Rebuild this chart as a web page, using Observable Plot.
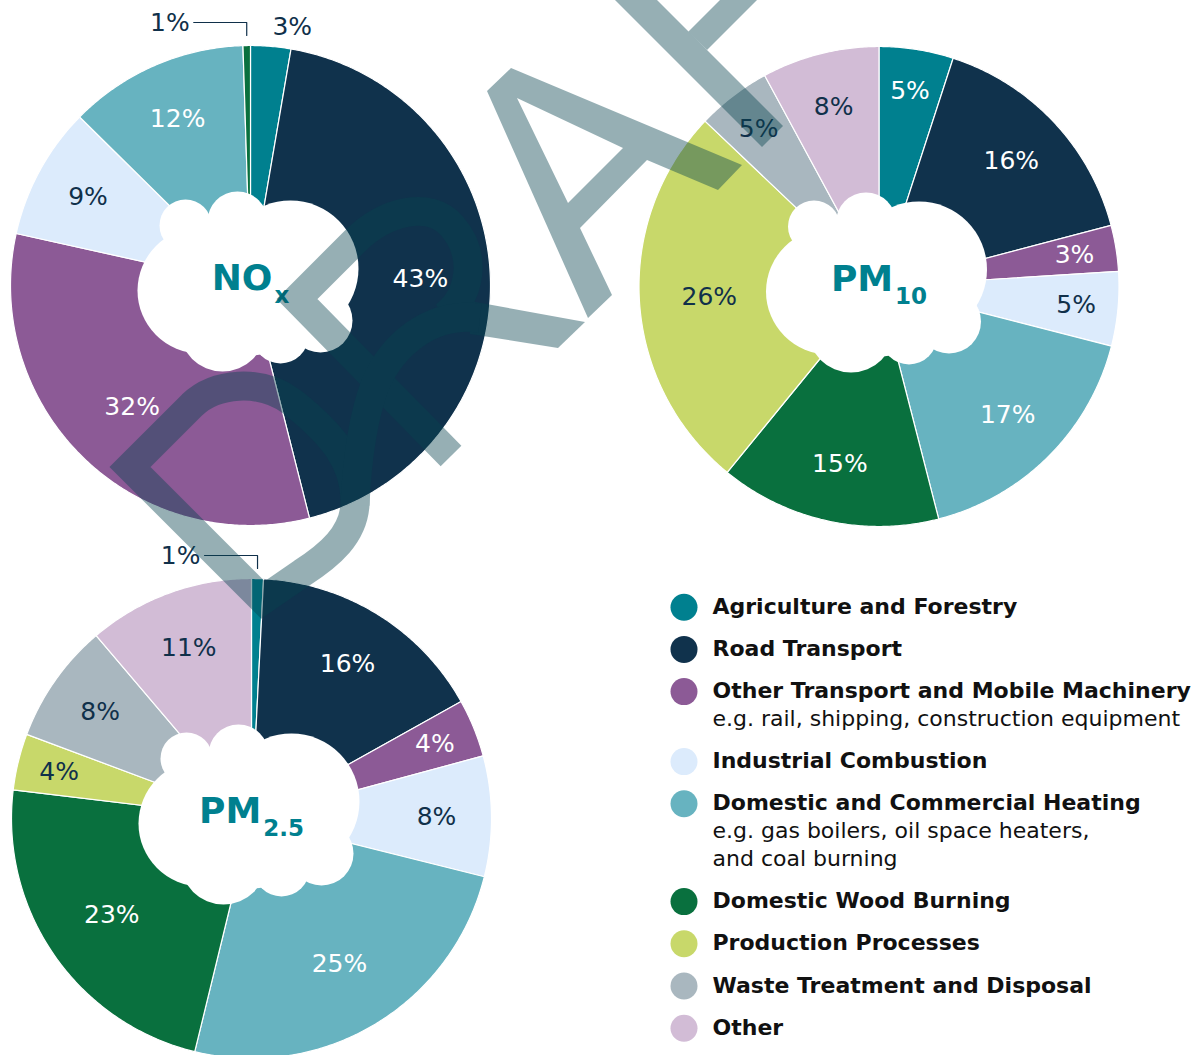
<!DOCTYPE html>
<html><head><meta charset="utf-8">
<script src="https://cdn.jsdelivr.net/npm/d3@7"></script>
<script src="https://cdn.jsdelivr.net/npm/@observablehq/plot@0.6"></script>
<style>
html,body{margin:0;padding:0;background:#fff;overflow:hidden;}
#chart{position:relative;width:1200px;height:1055px;}
</style></head><body><div id="chart"></div>
<script>
// ---------- data ----------
const categories = ["Agriculture and Forestry","Road Transport","Other Transport and Mobile Machinery","Industrial Combustion","Domestic and Commercial Heating","Domestic Wood Burning","Production Processes","Waste Treatment and Disposal","Other"];
const categoryNotes = [[], [], ["e.g. rail, shipping, construction equipment"], [], ["e.g. gas boilers, oil space heaters,", "and coal burning"], [], [], [], []];
const categoryColors = ["#00808f","#10324c","#8c5a96","#dcebfc","#67b3c0","#09703e","#c8d86a","#a9b7bf","#d2bcd6"];
const darkLabelCategories = [3, 6, 7, 8];
const pollutantMain = ["NO","PM","PM"];
const pollutantSub = ["x","10","2.5"];
const noxShares  = [2.7, 43.3, 32.4, 8.9, 12.1, 0.5, 0, 0, 0];
const pm10Shares = [5.0, 15.9, 3.1, 5.0, 17.0, 14.9, 26.2, 5.0, 7.9];
const pm25Shares = [0.8, 16.1, 3.9, 8.1, 24.9, 23.1, 3.8, 8.1, 11.2];

// ---------- layout ----------
const W = 1200, H = 1055, pieR = 240;
const pieCenters = [[250, 285], [878.5, 286], [251, 818]];
const cloudBumps = [[-65,-60,26],[-13,-64,30],[40,-17,68],[70,35,32],[30,50,28],[-28,43,43],[-50,5,63],[0,10,60]];
const teal = "#00808f", darkText = "#10304a";

const shareSets = [noxShares, pm10Shares, pm25Shares];
const slicePoints = [], labels = [], leaders = [], cloudDots = [];
shareSets.forEach((shares, p) => {
  const [cx, cy] = pieCenters[p];
  const total = d3.sum(shares);
  let acc = 0;
  shares.forEach((v, i) => {
    if (!v) return;
    const a0 = acc / total * 2 * Math.PI; acc += v; const a1 = acc / total * 2 * Math.PI;
    const key = p + "-" + i;
    const n = Math.max(2, Math.ceil((a1 - a0) / (Math.PI / 360)));
    const pts = [];
    for (let k = 0; k <= n; k++) {
      const a = a0 + (a1 - a0) * k / n;
      pts.push({key, cat: categories[i], x: cx + pieR * Math.sin(a), y: cy - pieR * Math.cos(a)});
    }
    pts.push({key, cat: categories[i], x: cx, y: cy});
    pts.push({...pts[0]});
    slicePoints.push(...pts);
    const am = (a0 + a1) / 2;
    const text = Math.round(v) + "%";
    if (v < 1) {
      const lx = cx + pieR * Math.sin(am), top = cy - pieR;
      leaders.push({key, x: lx, y: top - 10}, {key, x: lx, y: top - 23}, {key, x: lx - 53, y: top - 23});
      labels.push({text, x: lx - 57, y: top - 23, dark: true, anchor: "end"});
    } else if (v < 3) {
      const rr = pieR + 19;
      labels.push({text, x: cx + rr * Math.sin(am), y: cy - rr * Math.cos(am), dark: true, anchor: "start"});
    } else {
      const rr = v >= 20 ? 170 : v >= 10 ? 182 : v >= 6 ? 185 : 198;
      labels.push({text, x: cx + rr * Math.sin(am), y: cy - rr * Math.cos(am), dark: darkLabelCategories.includes(i), anchor: "middle"});
    }
  });
  cloudBumps.forEach(([dx, dy, r]) => cloudDots.push({x: cx + dx, y: cy + dy, r}));
});

// titles: centre main + subscript on pie centre
const ctx = document.createElement("canvas").getContext("2d");
const titleMain = [], titleSub = [];
pieCenters.forEach(([cx, cy], p) => {
  ctx.font = "bold 36px 'DejaVu Sans'";
  const mw = ctx.measureText(pollutantMain[p]).width;
  ctx.font = "bold 23px 'DejaVu Sans'";
  const sw = ctx.measureText(pollutantSub[p]).width;
  const x0 = cx - (mw + sw + 2) / 2;
  titleMain.push({x: x0, y: cy + 4, text: pollutantMain[p]});
  titleSub.push({x: x0 + mw + 2, y: cy + 17, text: pollutantSub[p]});
});

// legend rows
const legendDots = [], legendNames = [], legendNotes = [];
let base = 613.3;
categories.forEach((c, i) => {
  legendDots.push({cat: c, x: 683.5, y: base - 6.6});
  legendNames.push({text: c, x: 712, y: base});
  categoryNotes[i].forEach((t, k) => legendNotes.push({text: t, x: 712, y: base + 28 * (k + 1)}));
  base += 42.2 + 27.8 * categoryNotes[i].length;
});

const chart = Plot.plot({
  width: W, height: H, margin: 0,
  x: {domain: [0, W], range: [0, W], axis: null},
  y: {domain: [0, H], range: [0, H], axis: null},
  r: {type: "identity"},
  color: {domain: categories, range: categoryColors},
  style: {fontFamily: "'DejaVu Sans', Verdana, sans-serif", background: "white"},
  marks: [
    Plot.line(slicePoints, {x: "x", y: "y", z: "key", fill: "cat", stroke: "white", strokeWidth: 1.2, strokeLinejoin: "round"}),
    Plot.dot(cloudDots, {x: "x", y: "y", r: "r", fill: "white", stroke: null}),
    Plot.text(labels.filter(d => !d.dark), {x: "x", y: "y", text: "text", fill: "white", fontSize: 25}),
    Plot.text(labels.filter(d => d.dark && d.anchor === "middle"), {x: "x", y: "y", text: "text", fill: darkText, fontSize: 25}),
    Plot.text(labels.filter(d => d.anchor === "start"), {x: "x", y: "y", text: "text", fill: darkText, fontSize: 25, textAnchor: "start"}),
    Plot.text(labels.filter(d => d.anchor === "end"), {x: "x", y: "y", text: "text", fill: darkText, fontSize: 25, textAnchor: "end"}),
    Plot.line(leaders, {x: "x", y: "y", z: "key", stroke: darkText, strokeWidth: 1.2, curve: "linear"}),
    Plot.text(titleMain, {x: "x", y: "y", text: "text", fill: teal, fontSize: 36, fontWeight: "bold", textAnchor: "start", lineAnchor: "bottom"}),
    Plot.text(titleSub, {x: "x", y: "y", text: "text", fill: teal, fontSize: 23, fontWeight: "bold", textAnchor: "start", lineAnchor: "bottom"}),
    Plot.dot(legendDots, {x: "x", y: "y", r: 13.5, fill: "cat", stroke: null}),
    Plot.text(legendNames, {x: "x", y: "y", text: "text", fill: "#111", fontSize: 22, fontWeight: "bold", textAnchor: "start", lineAnchor: "bottom"}),
    Plot.text(legendNotes, {x: "x", y: "y", text: "text", fill: "#111", fontSize: 22, textAnchor: "start", lineAnchor: "bottom"})
  ]
});
document.getElementById("chart").appendChild(chart);

// decorative watermark overlay (not data)
const svg = d3.select(chart);
const wm = svg.append("g").attr("opacity", 0.42);
const wmColor = "#07434f";
[
  "M605,-10 L647,-10 L783,126 L762,147 Z",
  "M730,-10 L767,-10 L707,50 L688,32 Z",
  "M487,91 L511,68 L742,165 L718,190 L647,160 L580,228 L612,295 L588,318 Z M517,98 L623,148 L568,203 Z",
  "M470,301 L585,322 L558,348 L470,334 Z"
].forEach(d => wm.append("path").attr("d", d).attr("fill", wmColor).attr("fill-rule", "evenodd"));
[
  "M130,467 L192,405 C215,383 260,378 292,402 C330,432 357,462 355,505 C353,535 330,555 302,573 L263,600 Z",
  "M451,456 L297,299 L355,241 C385,211 430,200 452,226 C478,256 470,296 445,316",
  "M480,318 C430,312 392,345 375,385 C362,420 357,460 355,505"
].forEach(d => wm.append("path").attr("d", d).attr("fill", "none").attr("stroke", wmColor)
  .attr("stroke-width", 29).attr("stroke-linejoin", "miter").attr("stroke-miterlimit", 10).attr("stroke-linecap", "butt"));
</script>
</body></html>
